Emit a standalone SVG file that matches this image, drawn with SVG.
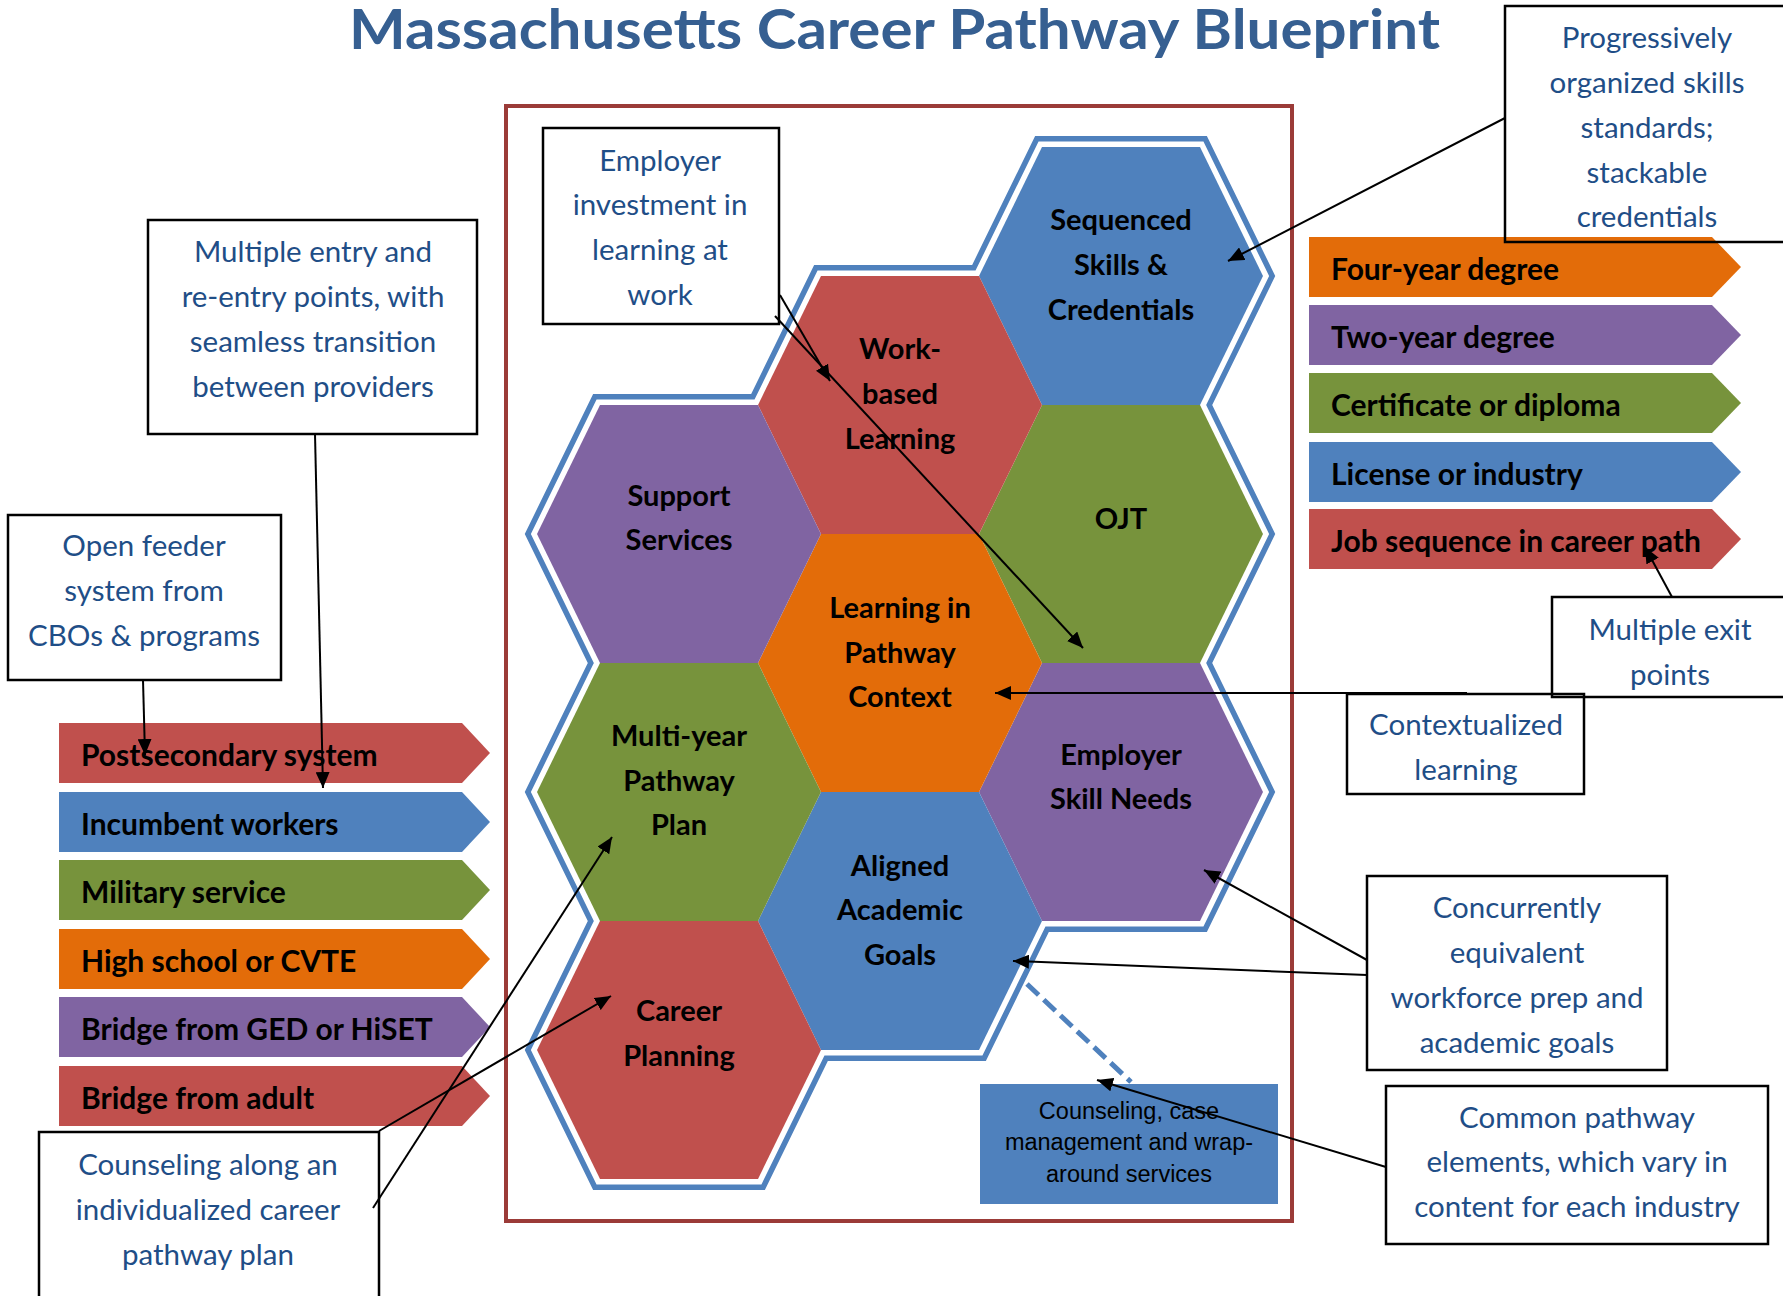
<svg xmlns="http://www.w3.org/2000/svg" width="1783" height="1296" viewBox="0 0 1783 1296">
<defs>
<style>
.hexlbl{font-family:Lato,"Open Sans",sans-serif;font-weight:bold;font-size:29px;fill:#000;text-anchor:middle}
.bar{font-family:Lato,"Open Sans",sans-serif;font-weight:bold;font-size:30px;fill:#000}
.call{font-family:Lato,"Open Sans",sans-serif;font-size:29.5px;fill:#1F4E87;text-anchor:middle}
.box{fill:none;stroke:#000;stroke-width:2.5}
.conn{fill:none;stroke:#000;stroke-width:2}
.blue{fill:#4F81BD}.red{fill:#C0504D}.green{fill:#77933C}.purple{fill:#8064A2}.orange{fill:#E36C09}
</style>
<marker id="ah" markerUnits="userSpaceOnUse" markerWidth="16" markerHeight="14" refX="16" refY="7" orient="auto">
<path d="M0,0 L16,7 L0,14 z" fill="#000"/>
</marker>
</defs>
<rect width="1783" height="1296" fill="#fff"/>

<text x="349" y="49" font-family="Lato,'Open Sans',sans-serif" font-weight="bold" font-size="56" fill="#365F91" textLength="1091" lengthAdjust="spacingAndGlyphs">Massachusetts Career Pathway Blueprint</text>

<rect id="frame" x="506" y="106" width="786" height="1115" fill="none" stroke="#9B3B38" stroke-width="4"/>

<g id="outline">
<polygon points="1042,147 1200,147 1263,276 1200,405 1263,534 1200,663 1263,792 1200,921 1042,921 979,1050 821,1050 758,1179 600,1179 537,1050 600,921 537,792 600,663 537,534 600,405 758,405 821,276 979,276" fill="#fff" stroke="#4F81BD" stroke-width="22" stroke-linejoin="miter"/>
<polygon points="1042,147 1200,147 1263,276 1200,405 1263,534 1200,663 1263,792 1200,921 1042,921 979,1050 821,1050 758,1179 600,1179 537,1050 600,921 537,792 600,663 537,534 600,405 758,405 821,276 979,276" fill="#fff" stroke="#fff" stroke-width="11" stroke-linejoin="miter"/>
</g>

<g id="hex-sequenced"><polygon class="blue" points="979,276 1042,147 1200,147 1263,276 1200,405 1042,405"/>
<text class="hexlbl"><tspan x="1121" y="230">Sequenced</tspan><tspan x="1121" y="275">Skills &amp;</tspan><tspan x="1121" y="320">Credentials</tspan></text></g>
<g id="hex-ojt"><polygon class="green" points="979,534 1042,405 1200,405 1263,534 1200,663 1042,663"/>
<text class="hexlbl" x="1121" y="529">OJT</text></g>
<g id="hex-employer"><polygon class="purple" points="979,792 1042,663 1200,663 1263,792 1200,921 1042,921"/>
<text class="hexlbl"><tspan x="1121" y="765">Employer</tspan><tspan x="1121" y="809">Skill Needs</tspan></text></g>
<g id="hex-work"><polygon class="red" points="758,405 821,276 979,276 1042,405 979,534 821,534"/>
<text class="hexlbl"><tspan x="900" y="359">Work-</tspan><tspan x="900" y="404">based</tspan><tspan x="900" y="449">Learning</tspan></text></g>
<g id="hex-learning"><polygon class="orange" points="758,663 821,534 979,534 1042,663 979,792 821,792"/>
<text class="hexlbl"><tspan x="900" y="618">Learning in</tspan><tspan x="900" y="663">Pathway</tspan><tspan x="900" y="707">Context</tspan></text></g>
<g id="hex-aligned"><polygon class="blue" points="758,921 821,792 979,792 1042,921 979,1050 821,1050"/>
<text class="hexlbl"><tspan x="900" y="876">Aligned</tspan><tspan x="900" y="920">Academic</tspan><tspan x="900" y="965">Goals</tspan></text></g>
<g id="hex-support"><polygon class="purple" points="537,534 600,405 758,405 821,534 758,663 600,663"/>
<text class="hexlbl"><tspan x="679" y="506">Support</tspan><tspan x="679" y="550">Services</tspan></text></g>
<g id="hex-multiyear"><polygon class="green" points="537,792 600,663 758,663 821,792 758,921 600,921"/>
<text class="hexlbl"><tspan x="679" y="746">Multi-year</tspan><tspan x="679" y="791">Pathway</tspan><tspan x="679" y="835">Plan</tspan></text></g>
<g id="hex-career"><polygon class="red" points="537,1050 600,921 758,921 821,1050 758,1179 600,1179"/>
<text class="hexlbl"><tspan x="679" y="1021">Career</tspan><tspan x="679" y="1066">Planning</tspan></text></g>

<g id="counseling-services"><rect class="blue" x="980" y="1084" width="298" height="120"/>
<text font-family="'Liberation Sans',Arial,sans-serif" font-size="23.5" fill="#000" text-anchor="middle"><tspan x="1129" y="1119">Counseling, case</tspan><tspan x="1129" y="1150">management and wrap-</tspan><tspan x="1129" y="1182">around services</tspan></text></g>

<g id="exit-bars">
<g id="bar-four"><polygon class="orange" points="1309,237 1712,237 1741,267 1712,297 1309,297"/><text class="bar" x="1331" y="280">Four-year degree</text></g>
<g id="bar-two"><polygon class="purple" points="1309,305 1712,305 1741,335 1712,365 1309,365"/><text class="bar" x="1331" y="348">Two-year degree</text></g>
<g id="bar-cert"><polygon class="green" points="1309,373 1712,373 1741,403 1712,433 1309,433"/><text class="bar" x="1331" y="416">Certificate or diploma</text></g>
<g id="bar-license"><polygon class="blue" points="1309,442 1712,442 1741,472 1712,502 1309,502"/><text class="bar" x="1331" y="485">License or industry</text></g>
<g id="bar-job"><polygon class="red" points="1309,509 1712,509 1741,539 1712,569 1309,569"/><text class="bar" x="1331" y="552">Job sequence in career path</text></g>
</g>

<g id="entry-bars">
<g id="bar-post"><polygon class="red" points="59,723 462,723 490,753 462,783 59,783"/><text class="bar" x="81" y="766">Postsecondary system</text></g>
<g id="bar-incumbent"><polygon class="blue" points="59,792 462,792 490,822 462,852 59,852"/><text class="bar" x="81" y="835">Incumbent workers</text></g>
<g id="bar-military"><polygon class="green" points="59,860 462,860 490,890 462,920 59,920"/><text class="bar" x="81" y="903">Military service</text></g>
<g id="bar-hs"><polygon class="orange" points="59,929 462,929 490,959 462,989 59,989"/><text class="bar" x="81" y="972">High school or CVTE</text></g>
<g id="bar-ged"><polygon class="purple" points="59,997 462,997 490,1027 462,1057 59,1057"/><text class="bar" x="81" y="1040">Bridge from GED or HiSET</text></g>
<g id="bar-adult"><polygon class="red" points="59,1066 462,1066 490,1096 462,1126 59,1126"/><text class="bar" x="81" y="1109">Bridge from adult</text></g>
</g>

<g id="callout-multiple-entry"><rect class="box" x="148" y="220" width="329" height="214"/>
<text class="call"><tspan x="313" y="262">Multiple entry and</tspan><tspan x="313" y="307">re-entry points, with</tspan><tspan x="313" y="352">seamless transition</tspan><tspan x="313" y="397">between providers</tspan></text></g>
<g id="callout-open-feeder"><rect class="box" x="8" y="515" width="273" height="165"/>
<text class="call"><tspan x="144" y="556">Open feeder</tspan><tspan x="144" y="601">system from</tspan><tspan x="144" y="646">CBOs &amp; programs</tspan></text></g>
<g id="callout-employer-investment"><rect class="box" x="543" y="128" width="236" height="196"/>
<text class="call"><tspan x="660" y="171">Employer</tspan><tspan x="660" y="215">investment in</tspan><tspan x="660" y="260">learning at</tspan><tspan x="660" y="305">work</tspan></text></g>
<g id="callout-progressively"><rect class="box" x="1505" y="6" width="290" height="236"/>
<text class="call"><tspan x="1647" y="48">Progressively</tspan><tspan x="1647" y="93">organized skills</tspan><tspan x="1647" y="138">standards;</tspan><tspan x="1647" y="183">stackable</tspan><tspan x="1647" y="227">credentials</tspan></text></g>
<g id="callout-multiple-exit"><rect class="box" x="1552" y="597" width="240" height="100"/>
<text class="call"><tspan x="1670" y="640">Multiple exit</tspan><tspan x="1670" y="685">points</tspan></text></g>
<g id="callout-contextualized"><rect class="box" x="1347" y="694" width="237" height="100"/>
<text class="call"><tspan x="1466" y="735">Contextualized</tspan><tspan x="1466" y="780">learning</tspan></text></g>
<g id="callout-concurrently"><rect class="box" x="1367" y="876" width="300" height="194"/>
<text class="call"><tspan x="1517" y="918">Concurrently</tspan><tspan x="1517" y="963">equivalent</tspan><tspan x="1517" y="1008">workforce prep and</tspan><tspan x="1517" y="1053">academic goals</tspan></text></g>
<g id="callout-common"><rect class="box" x="1386" y="1086" width="382" height="158"/>
<text class="call"><tspan x="1577" y="1128">Common pathway</tspan><tspan x="1577" y="1172">elements, which vary in</tspan><tspan x="1577" y="1217">content for each industry</tspan></text></g>
<g id="callout-counseling-along"><rect class="box" x="39" y="1132" width="340" height="180"/>
<text class="call"><tspan x="208" y="1175">Counseling along an</tspan><tspan x="208" y="1220">individualized career</tspan><tspan x="208" y="1265">pathway plan</tspan></text></g>

<g id="connectors">
<line x1="1027" y1="984" x2="1131" y2="1082" stroke="#4F81BD" stroke-width="5" stroke-dasharray="16 7"/>
<line class="conn" x1="315" y1="434" x2="323" y2="788" marker-end="url(#ah)"/>
<line class="conn" x1="143" y1="680" x2="145" y2="755" marker-end="url(#ah)"/>
<line class="conn" x1="780" y1="295" x2="830" y2="381" marker-end="url(#ah)"/>
<line class="conn" x1="775" y1="316" x2="1083" y2="648" marker-end="url(#ah)"/>
<line class="conn" x1="1505" y1="118" x2="1228" y2="261" marker-end="url(#ah)"/>
<line class="conn" x1="1672" y1="597" x2="1645" y2="547" marker-end="url(#ah)"/>
<line class="conn" x1="1467" y1="693" x2="995" y2="693" marker-end="url(#ah)"/>
<line class="conn" x1="1367" y1="960" x2="1204" y2="870" marker-end="url(#ah)"/>
<line class="conn" x1="1367" y1="975" x2="1013" y2="961" marker-end="url(#ah)"/>
<line class="conn" x1="1386" y1="1167" x2="1097" y2="1080" marker-end="url(#ah)"/>
<line class="conn" x1="379" y1="1131" x2="611" y2="996" marker-end="url(#ah)"/>
<line class="conn" x1="373" y1="1208" x2="612" y2="837" marker-end="url(#ah)"/>
</g>
</svg>
